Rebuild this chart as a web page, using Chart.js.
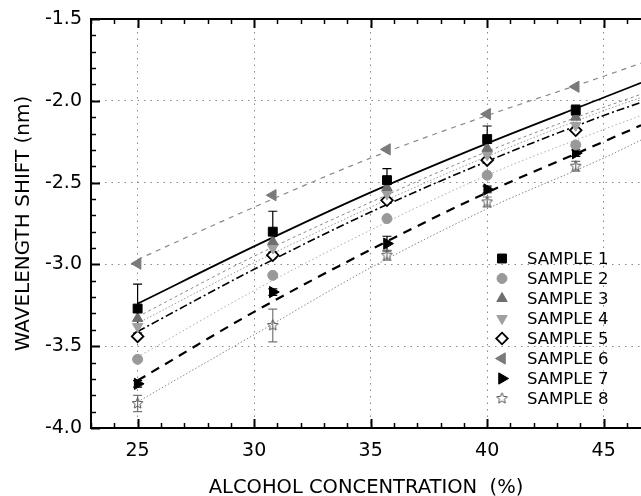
<!DOCTYPE html>
<html><head><meta charset="utf-8">
<script src="https://cdn.jsdelivr.net/npm/chart.js@4/dist/chart.umd.min.js"></script>
<style>html,body{margin:0;padding:0;background:#fff}canvas{display:block}</style>
</head><body>
<canvas id="c" width="641" height="496"></canvas>
<script>
// ---------- data ----------
const X_POINTS = [25, 30.8, 35.7, 40, 43.8];
const X_FIT = [25, 30, 35, 40, 45, 46.6];
const X_TICKS = [25, 30, 35, 40, 45];
const Y_TICKS = [-4.0, -3.5, -3.0, -2.5, -2.0, -1.5];
const LABELS = ['SAMPLE 1','SAMPLE 2','SAMPLE 3','SAMPLE 4','SAMPLE 5','SAMPLE 6','SAMPLE 7','SAMPLE 8'];

const S1 = [-3.27, -2.80, -2.485, -2.234, -2.057];
const S2 = [-3.58, -3.067, -2.72, -2.455, -2.27];
const S3 = [-3.33, -2.86, -2.53, -2.29, -2.10];
const S4 = [-3.38, -2.90, -2.57, -2.33, -2.15];
const S5 = [-3.44, -2.944, -2.608, -2.363, -2.18];
const S6 = [-2.995, -2.577, -2.297, -2.081, -1.914];
const S7 = [-3.73, -3.169, -2.873, -2.542, -2.32];
const S8 = [-3.85, -3.373, -2.944, -2.618, -2.40];

const S1_ERR = [0.15, 0.125, 0.07, 0.08, 0.03];
const S7_ERR = [0.02, 0.02, 0.045, 0.02, 0.02];
const S8_ERR = [0.05, 0.10, 0.03, 0.03, 0.03];

const FIT1 = [-3.24, -2.89, -2.56, -2.26, -1.98, -1.89];
const FIT2 = [-3.566, -3.16, -2.79, -2.455, -2.175, -2.09];
const FIT3 = [-3.32, -2.95, -2.62, -2.31, -2.04, -1.96];
const FIT4 = [-3.36, -2.99, -2.65, -2.34, -2.06, -1.98];
const FIT5 = [-3.41, -3.03, -2.68, -2.37, -2.09, -2.01];
const FIT6 = [-2.97, -2.65, -2.35, -2.09, -1.85, -1.77];
const FIT7 = [-3.71, -3.29, -2.91, -2.56, -2.25, -2.15];
const FIT8 = [-3.84, -3.43, -3.02, -2.66, -2.35, -2.24];

const SERIES = [S1, S2, S3, S4, S5, S6, S7, S8];
const FITS = [FIT1, FIT2, FIT3, FIT4, FIT5, FIT6, FIT7, FIT8];
const ERRS = [S1_ERR, null, null, null, null, null, S7_ERR, S8_ERR];

// ---------- styles ----------
const FONT = 'DejaVu Sans';
function makeStar(size, color) {
  const c = document.createElement('canvas');
  c.width = size; c.height = size;
  const g = c.getContext('2d');
  g.strokeStyle = color; g.lineWidth = 1;
  const cx = size / 2, cy = size / 2, R = size / 2 - 0.8, r = R * 0.45;
  g.beginPath();
  for (let i = 0; i < 10; i++) {
    const a = -Math.PI / 2 + i * Math.PI / 5;
    const rr = i % 2 ? r : R;
    const px = cx + Math.cos(a) * rr, py = cy + Math.sin(a) * rr;
    if (i === 0) g.moveTo(px, py); else g.lineTo(px, py);
  }
  g.closePath(); g.stroke();
  return c;
}
const STAR = makeStar(13, '#555');

const MARKERS = [
  {style: 'rect', rot: 0, r: 6.3, fill: '#000', stroke: '#000', lw: 1},
  {style: 'circle', rot: 0, r: 5, fill: '#999', stroke: '#999', lw: 1},
  {style: 'triangle', rot: 0, r: 6, fill: '#6e6e6e', stroke: '#6e6e6e', lw: 1},
  {style: 'triangle', rot: 180, r: 6, fill: '#a0a0a0', stroke: '#a0a0a0', lw: 1},
  {style: 'rectRot', rot: 0, r: 5.8, fill: '#fff', stroke: '#000', lw: 1.8},
  {style: 'triangle', rot: -90, r: 6.5, fill: '#7a7a7a', stroke: '#7a7a7a', lw: 1},
  {style: 'triangle', rot: 90, r: 6.5, fill: '#000', stroke: '#000', lw: 1},
  {style: STAR, rot: 0, r: 6.5, fill: 'rgba(0,0,0,0)', stroke: '#555', lw: 1}
];
const LINES = [
  {color: '#000', w: 1.8, dash: []},
  {color: '#aaa', w: 1, dash: [1.5, 2.5]},
  {color: '#888', w: 1, dash: [3, 3]},
  {color: '#999', w: 1, dash: [1.5, 2]},
  {color: '#000', w: 1.6, dash: [8, 3, 2, 3]},
  {color: '#888', w: 1.2, dash: [5, 5]},
  {color: '#000', w: 2.2, dash: [9, 7]},
  {color: '#888', w: 1, dash: [1.5, 2]}
];
const ERR_COLORS = ['#000', '#000', '#000', '#000', '#000', '#000', '#000', '#777'];

// ---------- datasets ----------
const datasets = [];
SERIES.forEach((s, i) => {
  const m = MARKERS[i];
  datasets.push({
    label: LABELS[i],
    data: X_POINTS.map((x, k) => ({x: x, y: s[k]})),
    showLine: false,
    pointStyle: m.style,
    pointRotation: m.rot,
    pointRadius: m.r,
    backgroundColor: m.fill,
    borderColor: m.stroke,
    pointBorderWidth: m.lw,
    order: 1
  });
});
FITS.forEach((f, i) => {
  const l = LINES[i];
  datasets.push({
    label: LABELS[i] + ' fit',
    data: X_FIT.map((x, k) => ({x: x, y: f[k]})),
    showLine: true,
    pointRadius: 0,
    borderColor: l.color,
    borderWidth: l.w,
    borderDash: l.dash,
    cubicInterpolationMode: 'monotone',
    fill: false,
    order: 2
  });
});

function drawMarker(ctx, m, x, y) {
  ctx.save();
  if (typeof m.style !== 'string') {
    ctx.drawImage(m.style, x - m.style.width / 2, y - m.style.height / 2);
    ctx.restore();
    return;
  }
  ctx.translate(x, y);
  ctx.rotate(m.rot * Math.PI / 180);
  ctx.beginPath();
  const r = m.r;
  if (m.style === 'rect') {
    const s = Math.SQRT1_2 * r;
    ctx.rect(-s, -s, 2 * s, 2 * s);
  } else if (m.style === 'circle') {
    ctx.arc(0, 0, r, 0, Math.PI * 2);
  } else if (m.style === 'triangle') {
    for (let k = 0; k < 3; k++) {
      const a = k * 2 * Math.PI / 3;
      if (k === 0) ctx.moveTo(Math.sin(a) * r, -Math.cos(a) * r);
      else ctx.lineTo(Math.sin(a) * r, -Math.cos(a) * r);
    }
    ctx.closePath();
  } else if (m.style === 'rectRot') {
    ctx.moveTo(0, -r); ctx.lineTo(r, 0); ctx.lineTo(0, r); ctx.lineTo(-r, 0); ctx.closePath();
  }
  ctx.fillStyle = m.fill; ctx.fill();
  ctx.lineWidth = m.lw; ctx.strokeStyle = m.stroke; ctx.stroke();
  ctx.restore();
}

const errorBars = {
  id: 'errorBars',
  beforeDatasetsDraw(chart) {
    const {ctx, scales: {x, y}} = chart;
    ctx.save();
    ERRS.forEach((err, i) => {
      if (!err) return;
      ctx.strokeStyle = ERR_COLORS[i];
      ctx.lineWidth = 1.2;
      X_POINTS.forEach((xv, k) => {
        const e = err[k];
        if (!e) return;
        const px = x.getPixelForValue(xv);
        const y1 = y.getPixelForValue(SERIES[i][k] + e);
        const y2 = y.getPixelForValue(SERIES[i][k] - e);
        ctx.beginPath();
        ctx.moveTo(px, y1); ctx.lineTo(px, y2);
        ctx.moveTo(px - 4.5, y1); ctx.lineTo(px + 4.5, y1);
        ctx.moveTo(px - 4.5, y2); ctx.lineTo(px + 4.5, y2);
        ctx.stroke();
      });
    });
    ctx.restore();
  }
};

const frame = {
  id: 'frame',
  afterDraw(chart) {
    const {ctx, chartArea: a, scales: {x, y}} = chart;
    ctx.save();
    ctx.strokeStyle = '#000';
    ctx.lineCap = 'butt';
    // top border
    ctx.lineWidth = 2;
    ctx.beginPath(); ctx.moveTo(a.left - 1, a.top); ctx.lineTo(a.right, a.top); ctx.stroke();
    // x ticks (inward, bottom and top)
    for (let v = Math.ceil(x.min); v <= x.max; v++) {
      const px = Math.round(x.getPixelForValue(v)) + 0.5;
      const major = v % 5 === 0;
      const len = major ? 9 : 5;
      ctx.lineWidth = major ? 2 : 1.5;
      ctx.beginPath();
      ctx.moveTo(px, a.bottom); ctx.lineTo(px, a.bottom - len);
      ctx.moveTo(px, a.top); ctx.lineTo(px, a.top + len);
      ctx.stroke();
    }
    // y ticks (inward, left)
    for (let k = Math.round(y.min * 10); k <= Math.round(y.max * 10); k++) {
      const py = Math.round(y.getPixelForValue(k / 10)) + 0.5;
      const major = k % 5 === 0;
      const len = major ? 9 : 5;
      ctx.lineWidth = major ? 2 : 1.5;
      ctx.beginPath(); ctx.moveTo(a.left, py); ctx.lineTo(a.left + len, py); ctx.stroke();
    }
    // legend
    ctx.font = '16.5px "' + FONT + '"';
    ctx.textAlign = 'left';
    ctx.textBaseline = 'middle';
    LABELS.forEach((lab, i) => {
      const ly = 258.5 + 20 * i;
      drawMarker(ctx, MARKERS[i], 502, ly);
      ctx.fillStyle = '#000';
      ctx.fillText(lab, 527, ly + 1);
    });
    ctx.restore();
  }
};

const gridColor = (ctx) => {
  const v = ctx.tick ? ctx.tick.value : null;
  if (v === null) return 'rgba(0,0,0,0)';
  if (ctx.scale.axis === 'y' && (Math.abs(v + 4) < 1e-6 || Math.abs(v + 1.5) < 1e-6)) return 'rgba(0,0,0,0)';
  return '#888';
};

new Chart(document.getElementById('c'), {
  type: 'scatter',
  data: {datasets: datasets},
  plugins: [errorBars, frame],
  options: {
    responsive: false,
    animation: false,
    devicePixelRatio: 1,
    layout: {autoPadding: false, padding: {top: 19, right: 0, bottom: 0, left: 0}},
    plugins: {legend: {display: false}, tooltip: {enabled: false}},
    scales: {
      x: {
        type: 'linear', min: 23, max: 46.6,
        afterBuildTicks: (s) => { s.ticks = X_TICKS.map(v => ({value: v})); },
        afterFit: (s) => { s.height = 68; s.paddingLeft = 0; s.paddingRight = 0; },
        ticks: {font: {family: FONT, size: 19}, color: '#000', padding: 12, maxRotation: 0, autoSkip: false,
                callback: (v) => String(v)},
        grid: {color: gridColor, lineWidth: 1, drawTicks: false},
        border: {display: true, color: '#000', width: 2, dash: [1.5, 5]},
        title: {display: true, text: 'ALCOHOL CONCENTRATION  (%)', color: '#000',
                font: {family: FONT, size: 19.5, lineHeight: 0.8}, padding: 0}
      },
      y: {
        type: 'linear', min: -4, max: -1.5,
        afterBuildTicks: (s) => { s.ticks = Y_TICKS.map(v => ({value: v})); },
        afterFit: (s) => { s.width = 91; s.paddingTop = 0; s.paddingBottom = 0; },
        ticks: {font: {family: FONT, size: 19}, color: '#000', padding: 9, autoSkip: false,
                callback: (v) => Number(v).toFixed(1)},
        grid: {color: gridColor, lineWidth: 1, drawTicks: false},
        border: {display: true, color: '#000', width: 2, dash: [1.5, 5]},
        title: {display: true, text: 'WAVELENGTH SHIFT (nm)', color: '#000',
                font: {family: FONT, size: 20}, padding: {top: 12, bottom: 0}}
      }
    }
  }
});
</script>
</body></html>
